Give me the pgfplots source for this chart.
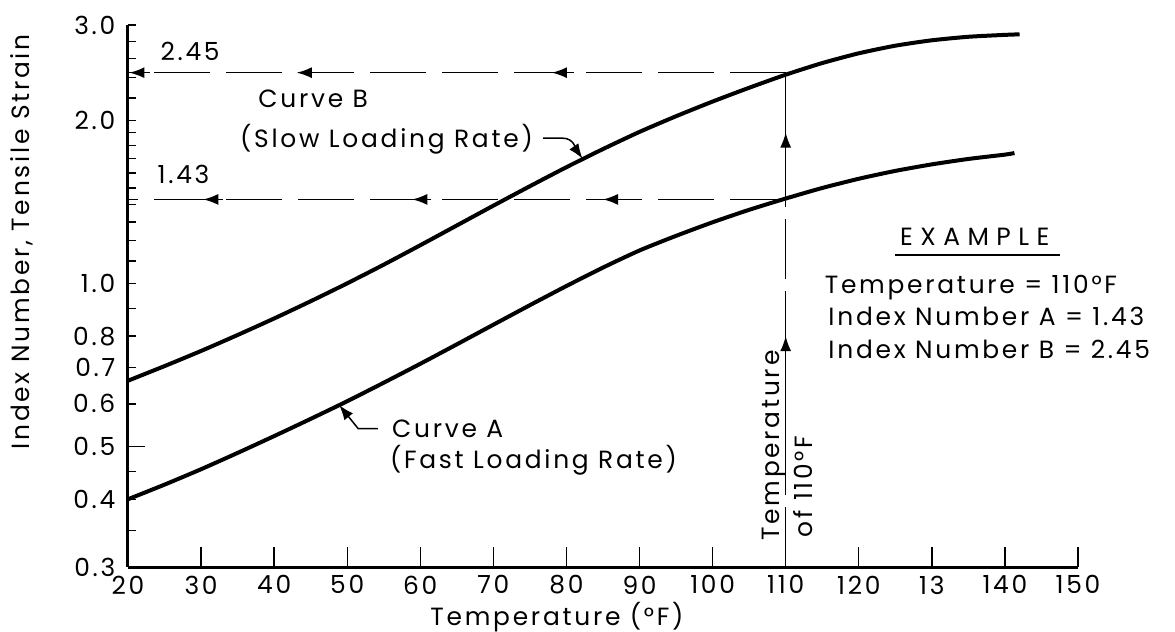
\documentclass[border=0pt]{standalone}
\usepackage{fontspec}
\setmainfont{Poppins}[LetterSpace=11]
\usepackage{pgfplots}
\usepackage{pgfplotstable}
\pgfplotsset{compat=1.18}
\usetikzlibrary{arrows.meta}

\pgfplotstableread{
T V
20 0.662
25 0.7044
30 0.7512
35 0.8039
40 0.8623
45 0.9279
50 1.0012
55 1.0839
60 1.1771
65 1.2803
70 1.3925
75 1.5127
80 1.6399
85 1.7712
90 1.9054
95 2.0361
100 2.1672
105 2.2979
110 2.4289
115 2.5521
120 2.6601
125 2.7474
130 2.8113
135 2.8537
140 2.8768
142 2.8835
}\curveB

\pgfplotstableread{
T V
20 0.4000
25 0.4257
30 0.4545
35 0.4871
40 0.5232
45 0.5629
50 0.6068
55 0.6564
60 0.7114
65 0.7727
70 0.8398
75 0.9125
80 0.9899
85 1.0705
90 1.1512
95 1.2249
100 1.2977
105 1.3682
110 1.4354
115 1.5012
120 1.5612
125 1.6142
130 1.6596
135 1.6982
140 1.7298
141.3 1.7414
}\curveA

\begin{document}
\fontsize{12.5}{15}\selectfont
\begin{tikzpicture}[font=\fontsize{12.5}{15}\selectfont,
  arr/.style={line width=0.75bp,-{Latex[length=7.5bp,width=5.5bp]}}]
\begin{axis}[
  scale only axis, width=475bp, height=271bp,
  at={(0,0)}, anchor=south west,
  xmin=20, xmax=150, ymode=log, ymin=0.3, ymax=3.0,
  axis x line*=bottom, axis y line*=left,
  axis line style={line width=1.5bp,-},
  every tick/.style={black,line width=0.7bp},
  tick align=inside,
  major tick length=10bp, minor tick length=4bp,
  xtick={20,30,...,150},
  xticklabels={20,30,40,50,60,70,80,90,100,110,120,13,140,150},
  ytick={0.3,0.4,0.5,0.6,0.7,0.8,1,2,3},
  yticklabels={0.3,0.4,0.5,0.6,0.7,0.8,1.0,2.0,3.0},
  ytick style={/pgfplots/major tick length=4bp},
  minor ytick={0.35,0.45,0.9,1.1,1.2,1.3,1.4,1.5,1.6,1.7,1.8,1.9,2.2,2.4,2.6,2.8},
  extra y ticks={1,2,3},
  extra y tick labels={},
  extra y tick style={/pgfplots/major tick length=13.5bp},
  yticklabel style={xshift=-2bp},
  /pgf/number format/assume math mode=true,
  xlabel={Temperature (°F)},
  ylabel={Index Number, Tensile Strain},
  xlabel style={at={(axis description cs:0.4516,-0.092)},anchor=center},
  ylabel style={at={(axis description cs:-0.1116,0.60)},anchor=center},
  clip=false,
]
\addplot[black,line width=2bp,smooth,tension=0.4] table[x=T,y=V]{\curveB};
\addplot[black,line width=2bp,smooth,tension=0.4] table[x=T,y=V]{\curveA};

% reading lines
\addplot[black,line width=0.75bp,dash pattern=on 28bp off 8bp] coordinates {(110,2.45) (20,2.45)};
\addplot[black,line width=0.75bp,dash pattern=on 28bp off 8bp] coordinates {(110,1.43) (20,1.43)};
\addplot[black,line width=0.75bp,dash pattern=on 30bp off 6bp] coordinates {(110,0.3) (110,2.43)};

% arrowheads on reading lines
\draw[arr] (axis cs:23,2.45) -- (axis cs:20.2,2.45);
\draw[arr] (axis cs:46,2.45) -- (axis cs:43.1,2.45);
\draw[arr] (axis cs:81,2.45) -- (axis cs:78,2.45);
\draw[arr] (axis cs:33,1.43) -- (axis cs:30.3,1.43);
\draw[arr] (axis cs:61.5,1.43) -- (axis cs:58.9,1.43);
\draw[arr] (axis cs:87.5,1.43) -- (axis cs:85,1.43);
\draw[arr] (axis cs:110,0.5) -- (axis cs:110,0.80);
\draw[arr] (axis cs:110,1.56) -- (axis cs:110,1.9);

% longer tick at 0.5
\draw[black,line width=0.7bp] (axis cs:20,0.5) -- ([xshift=8.5bp]axis cs:20,0.5);

% value labels
\node[anchor=base west,inner sep=0] at (axis cs:24.4,2.58) {2.45};
\node[anchor=base west,inner sep=0] at (axis cs:24,1.53) {1.43};

% curve labels
\node[anchor=base west,inner sep=0] at (axis cs:37.8,2.11) {Curve B};
\node[anchor=base west,inner sep=0] at (axis cs:35.3,1.78) {(Slow Loading Rate)};
\draw[arr] (axis cs:76.8,1.855) -- (axis cs:79.5,1.855) to[out=0,in=125] (axis cs:82.2,1.70);

\node[anchor=base west,inner sep=0] at (axis cs:56.1,0.52) {Curve A};
\node[anchor=base west,inner sep=0] at (axis cs:55.8,0.455) {(Fast Loading Rate)};
\draw[arr] (axis cs:54.2,0.54) -- (axis cs:51.5,0.54) -- (axis cs:48.9,0.597);

% example box
\node[anchor=base west,inner sep=0] at (axis cs:125.6,1.175) {\addfontfeature{LetterSpace=30}EXAMPLE};
\draw[black,line width=0.8bp] (axis cs:125,1.13) -- (axis cs:147.5,1.13);
\node[anchor=base west,inner sep=0] at (axis cs:115.3,0.96) {Temperature = 110°F};
\node[anchor=base west,inner sep=0] at (axis cs:115.8,0.838) {Index Number A = 1.43};
\node[anchor=base west,inner sep=0] at (axis cs:115.8,0.728) {Index Number B = 2.45};

% rotated labels beside the 110 line
\node[rotate=90,anchor=base west,inner sep=0] at (axis cs:109.2,0.335) {Temperature};
\node[rotate=90,anchor=base west,inner sep=0] at (axis cs:113.6,0.34) {of 110°F};
\end{axis}
\pgfresetboundingbox
\path (-64bp,-32.5bp) rectangle (523.5bp,283.5bp);
\end{tikzpicture}
\end{document}
